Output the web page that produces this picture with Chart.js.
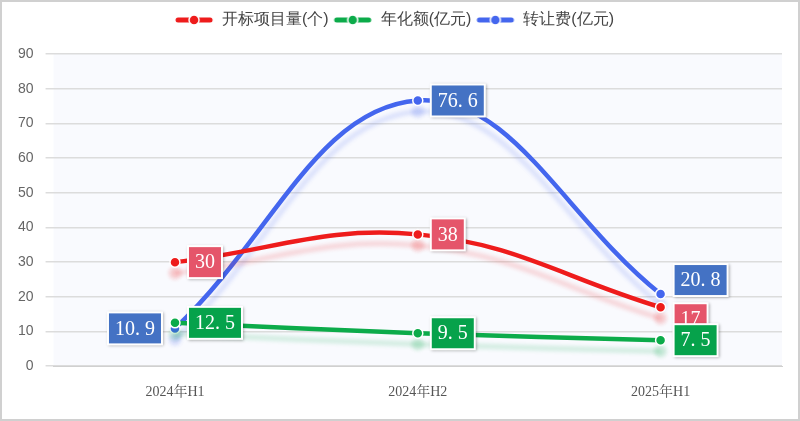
<!DOCTYPE html>
<html>
<head>
<meta charset="utf-8">
<script src="https://cdn.jsdelivr.net/npm/chart.js@4"></script>
<style>
  html, body { margin: 0; padding: 0; background: #fff; }
  #wrap { width: 796px; height: 417px; border: 2px solid #d0d0d0; position: relative; }
</style>
</head>
<body>
<div id="wrap"><canvas id="c"></canvas></div>
<script>
// data
const categories = ['2024年H1', '2024年H2', '2025年H1'];
const projectCount = [30, 38, 17];
const annualAmount = [12.5, 9.5, 7.5];
const transferFee = [10.9, 76.6, 20.8];
const yTicks = [0, 10, 20, 30, 40, 50, 60, 70, 80, 90];

// side: -1 label left of the point, 1 right; dy: vertical nudge of the box
const seriesStyle = [
    { label: '开标项目量(个)', data: projectCount, line: '#ee1c1c', box: '#e5556a', side: [1, 1, 1], dy: [0, 0, 12] },
    { label: '年化额(亿元)', data: annualAmount, line: '#0cab4a', box: '#06a24b', side: [1, 1, 1], dy: [0, 0, 0] },
    { label: '转让费(亿元)', data: transferFee, line: '#4466ee', box: '#4472c4', side: [-1, 1, 1], dy: [0, 0, -14] }
];

function legendIcon(color) {
    const cv = document.createElement('canvas');
    cv.width = 40; cv.height = 12;
    const g = cv.getContext('2d');
    g.strokeStyle = color; g.lineWidth = 5; g.lineCap = 'round';
    g.beginPath(); g.moveTo(4, 6); g.lineTo(36, 6); g.stroke();
    g.fillStyle = color; g.strokeStyle = '#fff'; g.lineWidth = 1.5;
    g.beginPath(); g.arc(20, 6, 5, 0, Math.PI * 2); g.fill(); g.stroke();
    return cv;
}

// plot background + shadow line + value boxes
const decor = {
    id: 'decor',
    beforeDraw(chart) {
        const a = chart.chartArea, ctx = chart.ctx;
        ctx.save();
        ctx.fillStyle = '#f9fafe';
        ctx.fillRect(a.left, a.top, a.right - a.left, a.bottom - a.top);
        ctx.restore();
    },
    beforeDatasetDraw(chart, args) {
        const ctx = chart.ctx;
        ctx.save();
        ctx.shadowColor = seriesStyle[args.index].line + '30';
        ctx.shadowOffsetY = 11;
        ctx.shadowBlur = 4;
    },
    afterDatasetDraw(chart) {
        chart.ctx.restore();
    },
    afterDatasetsDraw(chart) {
        const ctx = chart.ctx;
        ctx.save();
        ctx.font = '20px "Liberation Serif", "DejaVu Serif", serif';
        ctx.textBaseline = 'middle';
        seriesStyle.forEach((s, di) => {
            chart.getDatasetMeta(di).data.forEach((pt, i) => {
                const txt = String(s.data[i]).replace('.', '. ');
                const w = ctx.measureText(txt).width + 12, h = 30;
                const x = s.side[i] > 0 ? pt.x + 14 : pt.x - 14 - w;
                const cy = pt.y + s.dy[i];
                const y = cy - h / 2;
                ctx.shadowColor = 'rgba(0,0,0,0.35)';
                ctx.shadowBlur = 3; ctx.shadowOffsetX = 1; ctx.shadowOffsetY = 1;
                ctx.fillStyle = '#fff';
                ctx.fillRect(x - 2, y - 2, w + 4, h + 4);
                ctx.shadowColor = 'transparent';
                ctx.fillStyle = s.box;
                ctx.fillRect(x, y, w, h);
                ctx.fillStyle = '#fff';
                ctx.fillText(txt, x + 6, cy + 1);
            });
        });
        ctx.restore();
    }
};

new Chart(document.getElementById('c'), {
    type: 'line',
    data: {
        labels: categories,
        datasets: seriesStyle.map(s => ({
            label: s.label,
            data: s.data,
            borderColor: s.line,
            backgroundColor: s.line,
            borderWidth: 4.5,
            tension: 0.4,
            pointRadius: 5,
            pointBorderColor: '#fff',
            pointBorderWidth: 1.5,
            pointStyle: 'circle'
        }))
    },
    options: {
        responsive: true,
        maintainAspectRatio: false,
        animation: false,
        layout: { padding: { left: 4, right: 16, bottom: 8, top: 6 } },
        scales: {
            x: {
                offset: true,
                grid: { display: false },
                border: { color: '#d0d0d0' },
                ticks: { color: '#555', font: { size: 14, family: '"Liberation Serif", "Noto Serif CJK SC", serif' }, padding: 10 }
            },
            y: {
                min: 0, max: 90,
                afterBuildTicks: axis => { axis.ticks = yTicks.map(v => ({ value: v })); },
                grid: { color: '#dcdcdc', lineWidth: 1.5 },
                border: { display: false },
                ticks: { color: '#666', font: { size: 14 }, padding: 12 }
            }
        },
        plugins: {
            tooltip: { enabled: false },
            legend: {
                position: 'top',
                afterFit: l => { l.height += 16; },
                labels: {
                    color: '#444',
                    font: { size: 16 },
                    usePointStyle: true,
                    pointStyleWidth: 40,
                    boxHeight: 12,
                    padding: 4,
                    generateLabels: chart => seriesStyle.map((s, i) => ({
                        text: s.label,
                        pointStyle: legendIcon(s.line),
                        fontColor: '#444',
                        datasetIndex: i,
                        hidden: false,
                        lineWidth: 0
                    }))
                }
            }
        }
    },
    plugins: [decor, {
        id: 'legendGap',
        beforeInit(chart) {
            const orig = chart.legend && chart.legend.fit;
        }
    }]
});
// add space below legend
Chart.defaults.plugins.legend.afterFit = undefined;
(function () {
    const ch = Chart.getChart('c');
    const fit = ch.legend.fit;
    ch.legend.fit = function () { fit.call(this); this.height += 16; };
    ch.update();
})();
</script>
</body>
</html>
